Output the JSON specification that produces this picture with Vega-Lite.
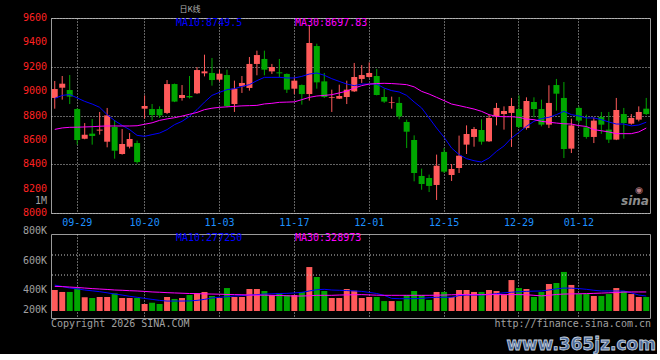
{
 "$schema": "https://vega.github.io/schema/vega-lite/v6.json",
 "background": "#000000",
 "autosize": {"type": "pad"},
 "padding": {"left": 22, "top": 5, "right": 0, "bottom": 0},
 "spacing": 21,
 "bounds": "flush",
 "config": {
  "view": {"stroke": "#9a9a9a", "strokeWidth": 1},
  "axis": {"labelFont": "DejaVu Sans Mono", "labelFontSize": 10, "domain": false, "ticks": false, "gridColor": "#c8c8c8", "gridDash": [1, 2], "gridWidth": 1, "gridOpacity": 1, "labelPadding": 4},
  "text": {"font": "DejaVu Sans Mono", "fontSize": 10}
 },
 "datasets": {
  "k": [
   {"d":"09-24","o":8944,"h":9083,"l":8856,"c":9017,"v":400,"m10":8940,"m30":8686,"vm10":435,"vm30":426},
   {"d":"09-25","o":9028,"h":9124,"l":8930,"c":9061,"v":386,"m10":8965,"m30":8698,"vm10":425,"vm30":424},
   {"d":"09-26","o":9009,"h":9132,"l":8894,"c":8955,"v":386,"m10":8972,"m30":8703,"vm10":414,"vm30":421},
   {"d":"09-29","o":8853,"h":8860,"l":8561,"c":8599,"v":412,"m10":8944,"m30":8704,"vm10":408,"vm30":418},
   {"d":"09-30","o":8610,"h":8738,"l":8605,"c":8643,"v":348,"m10":8916,"m30":8706,"vm10":400,"vm30":414},
   {"d":"10-09","o":8651,"h":8771,"l":8561,"c":8632,"v":343,"m10":8894,"m30":8708,"vm10":394,"vm30":410},
   {"d":"10-10","o":8676,"h":8829,"l":8643,"c":8684,"v":350,"m10":8867,"m30":8712,"vm10":388,"vm30":407},
   {"d":"10-13","o":8585,"h":8862,"l":8539,"c":8801,"v":350,"m10":8807,"m30":8714,"vm10":380,"vm30":404},
   {"d":"10-14","o":8706,"h":8763,"l":8446,"c":8511,"v":376,"m10":8758,"m30":8714,"vm10":371,"vm30":400},
   {"d":"10-15","o":8484,"h":8689,"l":8479,"c":8566,"v":343,"m10":8719,"m30":8714,"vm10":364,"vm30":398},
   {"d":"10-16","o":8544,"h":8656,"l":8530,"c":8607,"v":343,"m10":8684,"m30":8714,"vm10":355,"vm30":395},
   {"d":"10-17","o":8574,"h":8594,"l":8405,"c":8418,"v":343,"m10":8637,"m30":8716,"vm10":348,"vm30":393},
   {"d":"10-20","o":8856,"h":8965,"l":8774,"c":8878,"v":300,"m10":8629,"m30":8728,"vm10":340,"vm30":390},
   {"d":"10-21","o":8853,"h":8894,"l":8760,"c":8804,"v":309,"m10":8643,"m30":8740,"vm10":333,"vm30":386},
   {"d":"10-22","o":8853,"h":8875,"l":8780,"c":8801,"v":300,"m10":8656,"m30":8760,"vm10":326,"vm30":384},
   {"d":"10-23","o":8821,"h":9091,"l":8812,"c":9058,"v":350,"m10":8684,"m30":8772,"vm10":321,"vm30":381},
   {"d":"10-24","o":9058,"h":9062,"l":8910,"c":8914,"v":336,"m10":8725,"m30":8782,"vm10":321,"vm30":379},
   {"d":"10-27","o":8944,"h":9050,"l":8922,"c":8968,"v":343,"m10":8752,"m30":8795,"vm10":321,"vm30":377},
   {"d":"10-28","o":8960,"h":9124,"l":8940,"c":8949,"v":364,"m10":8793,"m30":8810,"vm10":322,"vm30":375},
   {"d":"10-29","o":8982,"h":9198,"l":8976,"c":9173,"v":376,"m10":8848,"m30":8825,"vm10":326,"vm30":374},
   {"d":"10-30","o":9146,"h":9299,"l":9121,"c":9162,"v":386,"m10":8910,"m30":8848,"vm10":333,"vm30":372},
   {"d":"10-31","o":9149,"h":9272,"l":9045,"c":9091,"v":357,"m10":8965,"m30":8860,"vm10":343,"vm30":371},
   {"d":"11-03","o":9094,"h":9176,"l":9080,"c":9143,"v":343,"m10":8990,"m30":8867,"vm10":348,"vm30":370},
   {"d":"11-04","o":9132,"h":9176,"l":8867,"c":8878,"v":414,"m10":9012,"m30":8871,"vm10":352,"vm30":368},
   {"d":"11-05","o":8894,"h":9086,"l":8829,"c":9020,"v":350,"m10":9020,"m30":8875,"vm10":357,"vm30":367},
   {"d":"11-06","o":9039,"h":9124,"l":8985,"c":9067,"v":350,"m10":9039,"m30":8879,"vm10":360,"vm30":366},
   {"d":"11-07","o":9026,"h":9280,"l":9004,"c":9223,"v":407,"m10":9053,"m30":8881,"vm10":364,"vm30":364},
   {"d":"11-10","o":9223,"h":9332,"l":9130,"c":9296,"v":407,"m10":9086,"m30":8883,"vm10":367,"vm30":363},
   {"d":"11-11","o":9264,"h":9332,"l":9130,"c":9176,"v":393,"m10":9113,"m30":8895,"vm10":371,"vm30":363},
   {"d":"11-12","o":9162,"h":9223,"l":9141,"c":9198,"v":364,"m10":9113,"m30":8900,"vm10":373,"vm30":362},
   {"d":"11-13","o":9154,"h":9264,"l":9113,"c":9146,"v":376,"m10":9113,"m30":8908,"vm10":375,"vm30":361},
   {"d":"11-14","o":9141,"h":9145,"l":8985,"c":9012,"v":364,"m10":9108,"m30":8910,"vm10":376,"vm30":359},
   {"d":"11-17","o":9020,"h":9113,"l":8976,"c":9086,"v":364,"m10":9108,"m30":8912,"vm10":379,"vm30":357},
   {"d":"11-18","o":9050,"h":9055,"l":8889,"c":8976,"v":386,"m10":9121,"m30":8930,"vm10":383,"vm30":357},
   {"d":"11-19","o":8976,"h":9540,"l":8922,"c":9395,"v":564,"m10":9140,"m30":8949,"vm10":393,"vm30":359},
   {"d":"11-20","o":9370,"h":9389,"l":9020,"c":9072,"v":493,"m10":9149,"m30":8960,"vm10":402,"vm30":362},
   {"d":"11-21","o":9080,"h":9149,"l":8944,"c":8952,"v":393,"m10":9130,"m30":8965,"vm10":405,"vm30":362},
   {"d":"11-24","o":8944,"h":9012,"l":8829,"c":8950,"v":343,"m10":9102,"m30":8971,"vm10":400,"vm30":362},
   {"d":"11-25","o":8938,"h":9053,"l":8935,"c":8960,"v":343,"m10":9080,"m30":8985,"vm10":398,"vm30":364},
   {"d":"11-26","o":8952,"h":9086,"l":8894,"c":9012,"v":407,"m10":9058,"m30":9000,"vm10":396,"vm30":365},
   {"d":"11-27","o":8998,"h":9231,"l":8993,"c":9116,"v":395,"m10":9045,"m30":9025,"vm10":393,"vm30":366},
   {"d":"11-28","o":9100,"h":9214,"l":9067,"c":9132,"v":343,"m10":9058,"m30":9045,"vm10":390,"vm30":367},
   {"d":"12-01","o":9116,"h":9236,"l":9110,"c":9149,"v":350,"m10":9058,"m30":9058,"vm10":383,"vm30":365},
   {"d":"12-02","o":9124,"h":9182,"l":8965,"c":8968,"v":350,"m10":9058,"m30":9062,"vm10":375,"vm30":363},
   {"d":"12-03","o":8952,"h":9020,"l":8903,"c":8914,"v":321,"m10":9025,"m30":9064,"vm10":362,"vm30":362},
   {"d":"12-04","o":8903,"h":8955,"l":8856,"c":8908,"v":321,"m10":9004,"m30":9062,"vm10":340,"vm30":362},
   {"d":"12-05","o":8903,"h":8952,"l":8769,"c":8793,"v":321,"m10":8993,"m30":9058,"vm10":338,"vm30":362},
   {"d":"12-08","o":8747,"h":8766,"l":8533,"c":8667,"v":364,"m10":8965,"m30":9053,"vm10":338,"vm30":362},
   {"d":"12-09","o":8599,"h":8637,"l":8260,"c":8328,"v":393,"m10":8911,"m30":9035,"vm10":338,"vm30":362},
   {"d":"12-10","o":8304,"h":8364,"l":8191,"c":8238,"v":364,"m10":8862,"m30":8998,"vm10":340,"vm30":362},
   {"d":"12-11","o":8287,"h":8315,"l":8172,"c":8222,"v":329,"m10":8780,"m30":8976,"vm10":345,"vm30":362},
   {"d":"12-12","o":8230,"h":8479,"l":8107,"c":8388,"v":386,"m10":8697,"m30":8949,"vm10":348,"vm30":363},
   {"d":"12-15","o":8501,"h":8533,"l":8328,"c":8339,"v":386,"m10":8621,"m30":8922,"vm10":348,"vm30":364},
   {"d":"12-16","o":8312,"h":8402,"l":8263,"c":8361,"v":350,"m10":8533,"m30":8894,"vm10":348,"vm30":366},
   {"d":"12-17","o":8369,"h":8635,"l":8328,"c":8470,"v":400,"m10":8479,"m30":8881,"vm10":360,"vm30":367},
   {"d":"12-18","o":8561,"h":8719,"l":8484,"c":8648,"v":400,"m10":8446,"m30":8867,"vm10":364,"vm30":367},
   {"d":"12-19","o":8624,"h":8706,"l":8544,"c":8689,"v":386,"m10":8429,"m30":8853,"vm10":364,"vm30":367},
   {"d":"12-22","o":8681,"h":8769,"l":8561,"c":8585,"v":386,"m10":8418,"m30":8834,"vm10":364,"vm30":367},
   {"d":"12-23","o":8588,"h":8807,"l":8583,"c":8780,"v":400,"m10":8451,"m30":8807,"vm10":368,"vm30":367},
   {"d":"12-24","o":8793,"h":8903,"l":8719,"c":8862,"v":393,"m10":8506,"m30":8793,"vm10":374,"vm30":367},
   {"d":"12-25","o":8812,"h":8875,"l":8684,"c":8837,"v":364,"m10":8550,"m30":8790,"vm10":380,"vm30":367},
   {"d":"12-26","o":8821,"h":8944,"l":8542,"c":8878,"v":471,"m10":8615,"m30":8790,"vm10":384,"vm30":367},
   {"d":"12-29","o":8853,"h":8965,"l":8697,"c":8706,"v":414,"m10":8662,"m30":8785,"vm10":388,"vm30":367},
   {"d":"12-30","o":8697,"h":8949,"l":8684,"c":8919,"v":407,"m10":8711,"m30":8771,"vm10":390,"vm30":366},
   {"d":"12-31","o":8911,"h":8949,"l":8785,"c":8853,"v":350,"m10":8752,"m30":8766,"vm10":392,"vm30":362},
   {"d":"01-05","o":8853,"h":8930,"l":8711,"c":8725,"v":386,"m10":8774,"m30":8752,"vm10":393,"vm30":358},
   {"d":"01-06","o":8725,"h":9048,"l":8697,"c":8903,"v":443,"m10":8785,"m30":8745,"vm10":400,"vm30":362},
   {"d":"01-07","o":9050,"h":9100,"l":8840,"c":8979,"v":450,"m10":8807,"m30":8738,"vm10":408,"vm30":368},
   {"d":"01-08","o":8944,"h":9075,"l":8451,"c":8525,"v":529,"m10":8834,"m30":8732,"vm10":414,"vm30":371},
   {"d":"01-09","o":8528,"h":8774,"l":8492,"c":8719,"v":436,"m10":8807,"m30":8730,"vm10":413,"vm30":372},
   {"d":"01-12","o":8862,"h":8875,"l":8738,"c":8758,"v":371,"m10":8796,"m30":8717,"vm10":410,"vm30":373},
   {"d":"01-13","o":8703,"h":8807,"l":8610,"c":8624,"v":371,"m10":8780,"m30":8710,"vm10":405,"vm30":374},
   {"d":"01-14","o":8624,"h":8785,"l":8574,"c":8758,"v":357,"m10":8780,"m30":8684,"vm10":398,"vm30":376},
   {"d":"01-15","o":8788,"h":8829,"l":8650,"c":8725,"v":357,"m10":8766,"m30":8675,"vm10":393,"vm30":378},
   {"d":"01-16","o":8684,"h":8829,"l":8574,"c":8602,"v":371,"m10":8747,"m30":8665,"vm10":393,"vm30":380},
   {"d":"01-19","o":8602,"h":8944,"l":8598,"c":8845,"v":414,"m10":8730,"m30":8651,"vm10":393,"vm30":382},
   {"d":"01-20","o":8812,"h":8862,"l":8610,"c":8738,"v":393,"m10":8730,"m30":8651,"vm10":393,"vm30":385},
   {"d":"01-21","o":8733,"h":8812,"l":8725,"c":8780,"v":371,"m10":8715,"m30":8651,"vm10":380,"vm30":386},
   {"d":"01-22","o":8766,"h":8875,"l":8752,"c":8829,"v":350,"m10":8722,"m30":8665,"vm10":364,"vm30":386},
   {"d":"01-23","o":8856,"h":8944,"l":8804,"c":8812,"v":350,"m10":8745,"m30":8697,"vm10":357,"vm30":386}
  ],
  "pticks": [{"t": 8000}, {"t": 8200}, {"t": 8400}, {"t": 8600}, {"t": 8800}, {"t": 9000}, {"t": 9200}, {"t": 9400}, {"t": 9600}]
 },
 "vconcat": [
  {
   "width": 599,
   "height": 195,
   "layer": [
    {
     "data": {"name": "k"},
     "mark": {"type": "rule", "strokeWidth": 1},
     "encoding": {
      "x": {"field": "d", "type": "ordinal", "sort": null, "scale": {"paddingInner": 0, "paddingOuter": 0},
            "axis": {"values": ["09-29", "10-20", "11-03", "11-17", "12-01", "12-15", "12-29", "01-12"], "labelColor": "#1E90FF", "grid": true, "labelAngle": 0, "labelPadding": 4, "bandPosition": 0.5, "title": null}},
      "y": {"field": "l", "type": "quantitative", "scale": {"domain": [8000, 9600], "nice": false, "zero": false},
            "axis": {"values": [8000, 8200, 8400, 8600, 8800, 9000, 9200, 9400, 9600], "labels": false, "title": null}},
      "y2": {"field": "h"},
      "color": {"condition": {"test": "datum.c >= datum.o", "value": "#FF5A5A"}, "value": "#00A600"}
     }
    },
    {
     "data": {"name": "k"},
     "mark": {"type": "bar", "width": {"band": 0.8}},
     "encoding": {
      "x": {"field": "d", "type": "ordinal", "sort": null},
      "y": {"field": "o", "type": "quantitative"},
      "y2": {"field": "c"},
      "color": {"condition": {"test": "datum.c >= datum.o", "value": "#FF5A5A"}, "value": "#00A600"}
     }
    },
    {
     "data": {"name": "k"},
     "mark": {"type": "line", "color": "#0000FF", "strokeWidth": 1},
     "encoding": {"x": {"field": "d", "type": "ordinal", "sort": null}, "y": {"field": "m10", "type": "quantitative"}}
    },
    {
     "data": {"name": "k"},
     "mark": {"type": "line", "color": "#FF00FF", "strokeWidth": 1},
     "encoding": {"x": {"field": "d", "type": "ordinal", "sort": null}, "y": {"field": "m30", "type": "quantitative"}}
    },
    {
     "data": {"name": "pticks"},
     "mark": {"type": "text", "align": "right", "baseline": "middle", "x": -4, "color": "#FF2222", "fontSize": 10},
     "encoding": {"y": {"field": "t", "type": "quantitative"}, "text": {"field": "t", "type": "quantitative", "format": "d"}}
    },
    {"data": {"values": [{}]}, "mark": {"type": "text", "text": "1M", "x": -4, "align": "right", "baseline": "middle", "color": "#a0a0a0", "fontSize": 10}, "encoding": {"y": {"datum": 8100, "type": "quantitative"}}},
    {"data": {"values": [{}]}, "mark": {"type": "text", "text": "MA10:8749.5", "x": 125, "y": 5, "align": "left", "baseline": "middle", "color": "#0000FF", "fontSize": 10}, "encoding": {}},
    {"data": {"values": [{}]}, "mark": {"type": "text", "text": "MA30:8697.83", "x": 244, "y": 5, "align": "left", "baseline": "middle", "color": "#FF00FF", "fontSize": 10}, "encoding": {}},
    {"data": {"values": [{}]}, "mark": {"type": "text", "text": "日K线", "x": 139, "y": -8, "align": "center", "baseline": "middle", "color": "#b0b0b0", "fontSize": 8, "font": "Noto Sans CJK SC"}, "encoding": {}},
    {"data": {"values": [{}]}, "mark": {"type": "text", "text": "sina", "x": 584, "y": 183, "align": "center", "baseline": "middle", "color": "#bdbdbd", "fontSize": 12, "font": "DejaVu Sans", "fontWeight": "bold", "fontStyle": "italic", "opacity": 0.75}, "encoding": {}},
    {"data": {"values": [{}]}, "mark": {"type": "text", "text": "◉", "x": 588, "y": 172, "align": "center", "baseline": "middle", "color": "#e8a0a8", "fontSize": 9, "font": "DejaVu Sans", "opacity": 0.8}, "encoding": {}}
   ]
  },
  {
   "width": 599,
   "height": 84,
   "layer": [
    {
     "data": {"name": "k"},
     "mark": {"type": "bar", "width": {"band": 0.8}},
     "encoding": {
      "x": {"field": "d", "type": "ordinal", "sort": null, "scale": {"paddingInner": 0, "paddingOuter": 0},
            "axis": {"values": ["09-29", "10-20", "11-03", "11-17", "12-01", "12-15", "12-29", "01-12"], "labels": false, "grid": true, "bandPosition": 0.5, "title": null}},
      "y": {"field": "v", "type": "quantitative", "scale": {"domain": [200, 800], "nice": false, "zero": false}, "axis": null},
      "y2": {"datum": 250},
      "color": {"condition": {"test": "datum.c >= datum.o", "value": "#FF5A5A"}, "value": "#00A600"}
     }
    },
    {"data": {"values": [{}]}, "mark": {"type": "rule", "color": "#c8c8c8", "strokeDash": [1, 2]}, "encoding": {"y": {"datum": 650, "type": "quantitative"}}},
    {"data": {"values": [{}]}, "mark": {"type": "rule", "color": "#c8c8c8", "strokeDash": [1, 2]}, "encoding": {"y": {"datum": 507, "type": "quantitative"}}},
    {
     "data": {"name": "k"},
     "mark": {"type": "line", "color": "#0000FF", "strokeWidth": 1},
     "encoding": {"x": {"field": "d", "type": "ordinal", "sort": null}, "y": {"field": "vm10", "type": "quantitative"}}
    },
    {
     "data": {"name": "k"},
     "mark": {"type": "line", "color": "#FF00FF", "strokeWidth": 1},
     "encoding": {"x": {"field": "d", "type": "ordinal", "sort": null}, "y": {"field": "vm30", "type": "quantitative"}}
    },
    {"data": {"values": [{}]}, "mark": {"type": "text", "text": "800K", "x": -4, "align": "right", "baseline": "middle", "color": "#a0a0a0", "fontSize": 10}, "encoding": {"y": {"datum": 820, "type": "quantitative"}}},
    {"data": {"values": [{}]}, "mark": {"type": "text", "text": "600K", "x": -4, "align": "right", "baseline": "middle", "color": "#a0a0a0", "fontSize": 10}, "encoding": {"y": {"datum": 610, "type": "quantitative"}}},
    {"data": {"values": [{}]}, "mark": {"type": "text", "text": "400K", "x": -4, "align": "right", "baseline": "middle", "color": "#a0a0a0", "fontSize": 10}, "encoding": {"y": {"datum": 400, "type": "quantitative"}}},
    {"data": {"values": [{}]}, "mark": {"type": "text", "text": "200K", "x": -4, "align": "right", "baseline": "middle", "color": "#a0a0a0", "fontSize": 10}, "encoding": {"y": {"datum": 257, "type": "quantitative"}}},
    {"data": {"values": [{}]}, "mark": {"type": "text", "text": "MA10:277250", "x": 125, "y": 4, "align": "left", "baseline": "middle", "color": "#0000FF", "fontSize": 10}, "encoding": {}},
    {"data": {"values": [{}]}, "mark": {"type": "text", "text": "MA30:328973", "x": 244, "y": 4, "align": "left", "baseline": "middle", "color": "#FF00FF", "fontSize": 10}, "encoding": {}},
    {"data": {"values": [{}]}, "mark": {"type": "text", "text": "Copyright 2026 SINA.COM", "x": 0, "y": 90, "align": "left", "baseline": "middle", "color": "#a0a0a0", "fontSize": 10}, "encoding": {}},
    {"data": {"values": [{}]}, "mark": {"type": "text", "text": "http://finance.sina.com.cn", "x": 600, "y": 90, "align": "right", "baseline": "middle", "color": "#a0a0a0", "fontSize": 10}, "encoding": {}},
    {"data": {"values": [{}]}, "mark": {"type": "text", "text": "www.365jz.com", "x": 605, "y": 111, "align": "right", "baseline": "middle", "color": "#4a6a9a", "stroke": "#c8d0dc", "strokeWidth": 0.8, "fontSize": 17, "font": "DejaVu Sans", "fontWeight": "bold"}, "encoding": {}}
   ]
  }
 ]
}
